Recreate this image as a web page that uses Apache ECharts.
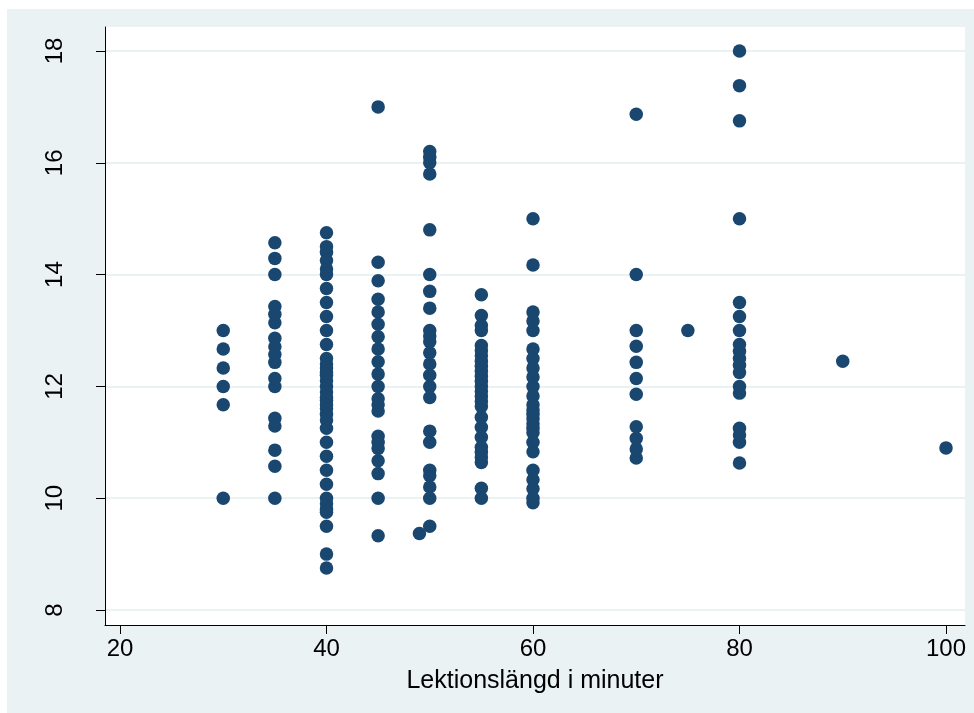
<!DOCTYPE html>
<html>
<head>
<meta charset="utf-8">
<script src="https://cdn.jsdelivr.net/npm/echarts@6/dist/echarts.min.js"></script>
<style>
html,body{margin:0;padding:0;background:#fff;}
#c{width:974px;height:713px;}
</style>
</head>
<body>
<div id="c"></div>
<script>
// Lesson length (minutes) on x, value on y
const y30 = [13.0, 12.67, 12.33, 12.0, 11.67, 10.0];
const y35 = [14.57, 14.29, 14.0, 13.43, 13.29, 13.14, 12.86, 12.71, 12.57, 12.43, 12.14, 12.0, 11.43, 11.29, 10.86, 10.57, 10.0];
const y40 = [14.75, 14.5, 14.4, 14.25, 14.1, 14.0, 13.75, 13.5, 13.25, 13.0, 12.75, 12.5, 12.4, 12.33, 12.25, 12.2, 12.1, 12.0, 11.9, 11.8, 11.75, 11.67, 11.6, 11.5, 11.4, 11.25, 11.0, 10.75, 10.5, 10.25, 10.0, 9.9, 9.8, 9.75, 9.5, 9.0, 8.75];
const y45 = [17.0, 14.22, 13.89, 13.56, 13.33, 13.11, 12.89, 12.67, 12.44, 12.22, 12.0, 11.78, 11.67, 11.56, 11.11, 11.0, 10.89, 10.67, 10.44, 10.0, 9.33];
const y49 = [9.37];
const y50 = [16.2, 16.1, 16.0, 15.8, 14.8, 14.0, 13.7, 13.4, 13.0, 12.9, 12.8, 12.6, 12.4, 12.2, 12.0, 11.8, 11.2, 11.0, 10.5, 10.4, 10.2, 10.0, 9.5];
const y55 = [13.64, 13.27, 13.09, 13.0, 12.73, 12.64, 12.55, 12.45, 12.36, 12.27, 12.18, 12.09, 12.0, 11.91, 11.82, 11.73, 11.64, 11.45, 11.27, 11.09, 10.91, 10.82, 10.73, 10.64, 10.18, 10.0];
const y60 = [15.0, 14.17, 13.33, 13.17, 13.0, 12.67, 12.5, 12.33, 12.17, 12.0, 11.83, 11.67, 11.58, 11.5, 11.42, 11.33, 11.25, 11.17, 11.0, 10.83, 10.5, 10.33, 10.17, 10.0, 9.92];
const y70 = [16.87, 14.0, 13.0, 12.72, 12.43, 12.14, 11.86, 11.28, 11.07, 10.88, 10.72];
const y75 = [13.0];
const y80 = [18.0, 17.38, 16.75, 15.0, 13.5, 13.25, 13.0, 12.75, 12.63, 12.5, 12.38, 12.25, 12.0, 11.88, 11.25, 11.13, 11.0, 10.63];
const y90 = [12.45];
const y100 = [10.9];

const xLengths = [30, 35, 40, 45, 49, 50, 55, 60, 70, 75, 80, 90, 100];
const yColumns = [y30, y35, y40, y45, y49, y50, y55, y60, y70, y75, y80, y90, y100];

const xTicks = [20, 40, 60, 80, 100];
const yTicks = [8, 10, 12, 14, 16, 18];
const xTitle = 'Lektionslängd i minuter';

const points = [];
xLengths.forEach((x, i) => yColumns[i].forEach(v => points.push([x, v])));

const chart = echarts.init(document.getElementById('c'), null, {renderer: 'canvas'});
const FONT = '"Liberation Sans", Arial, Helvetica, sans-serif';
chart.setOption({
  backgroundColor: '#ffffff',
  animation: false,
  graphic: [{
    type: 'rect', left: 7, top: 9, z: -100,
    shape: {width: 967, height: 704},
    style: {fill: '#EAF2F3'}
  }],
  grid: {
    left: 105, top: 27, width: 860, height: 598,
    show: true, backgroundColor: '#ffffff', borderWidth: 0
  },
  xAxis: {
    type: 'value', min: 18.547, max: 101.84,
    name: xTitle, nameLocation: 'middle', nameGap: 44,
    nameTextStyle: {fontFamily: FONT, fontSize: 25, color: '#000'},
    axisLine: {show: true, onZero: false, lineStyle: {color: '#000', width: 1}},
    axisTick: {show: true, length: 9, customValues: xTicks, lineStyle: {color: '#000'}},
    axisLabel: {customValues: xTicks, fontFamily: FONT, fontSize: 24, color: '#000', margin: 12},
    splitLine: {show: false}
  },
  yAxis: {
    type: 'value', min: 7.732, max: 18.429,
    axisLine: {show: true, onZero: false, lineStyle: {color: '#000', width: 1}},
    axisTick: {show: true, length: 9, customValues: yTicks, lineStyle: {color: '#000'}},
    axisLabel: {customValues: yTicks, rotate: 90, fontFamily: FONT, fontSize: 24, color: '#000', margin: 38},
    splitLine: {show: true, lineStyle: {color: '#EAF2F3', width: 2}}
  },
  series: [{
    type: 'scatter',
    data: points,
    symbol: 'circle',
    symbolSize: 13.5,
    itemStyle: {color: '#1A476F', opacity: 1},
    emphasis: {disabled: true}
  }]
});
</script>
</body>
</html>
